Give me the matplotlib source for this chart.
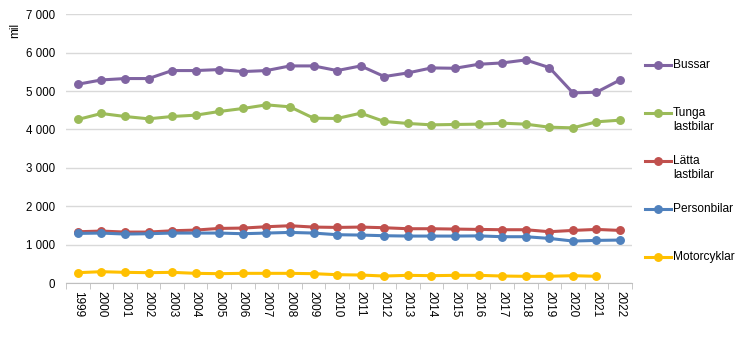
import matplotlib.pyplot as plt
from matplotlib.lines import Line2D
from matplotlib.ticker import FuncFormatter

plt.rcParams['font.family'] = ['Liberation Sans', 'DejaVu Sans']

years = [str(y) for y in range(1999, 2023)]

bussar = [5178, 5290, 5326, 5326, 5534, 5534, 5560, 5508, 5534, 5655, 5655, 5534,
          5655, 5378, 5473, 5603, 5594, 5698, 5733, 5811, 5612, 4953, 4970, 5290]
tunga = [4260, 4416, 4338, 4277, 4338, 4372, 4468, 4546, 4641, 4589, 4294, 4286,
         4424, 4208, 4156, 4120, 4130, 4138, 4164, 4138, 4059, 4042, 4199, 4242]
latta = [1335, 1353, 1327, 1327, 1361, 1379, 1422, 1431, 1466, 1492, 1457, 1448,
         1457, 1440, 1414, 1414, 1405, 1396, 1388, 1388, 1336, 1370, 1396, 1370]
person = [1292, 1301, 1275, 1284, 1301, 1301, 1301, 1284, 1301, 1318, 1301, 1258,
          1249, 1232, 1223, 1223, 1223, 1228, 1206, 1206, 1162, 1093, 1110, 1119]
motor = [269, 295, 278, 269, 278, 252, 243, 252, 252, 252, 243, 217,
         208, 182, 200, 191, 200, 200, 182, 174, 174, 191, 174]

series = [
    (bussar, '#8064A2', ['Bussar']),
    (tunga, '#9BBB59', ['Tunga', 'lastbilar']),
    (latta, '#C0504D', ['Lätta', 'lastbilar']),
    (person, '#4F81BD', ['Personbilar']),
    (motor, '#FFC000', ['Motorcyklar']),
]

fig = plt.figure(figsize=(7.46, 3.37), dpi=100)
ax = fig.add_axes([0.0885, 0.1602, 0.7585, 0.7974])

for vals, col, _ in series:
    ax.plot(range(len(vals)), vals, color=col, lw=2.2, marker='o', ms=5.4,
            solid_capstyle='round', zorder=3)

ax.set_xlim(-0.5, len(years) - 0.5)
ax.set_ylim(0, 7000)
ax.set_yticks(range(0, 7001, 1000))
ax.yaxis.set_major_formatter(FuncFormatter(lambda v, p: f'{int(v):,}'.replace(',', ' ')))
ax.set_xticks(range(len(years)))
ax.set_xticklabels(years, rotation=-90, fontsize=8.5)
ax.set_xticks([i - 0.5 for i in range(len(years) + 1)], minor=True)
ax.tick_params(axis='x', which='major', length=0, pad=6)
ax.tick_params(axis='x', which='minor', length=4, color='#BFBFBF')
ax.tick_params(axis='y', length=0, labelsize=8.3, pad=8)
ax.grid(axis='y', color='#D9D9D9', lw=1)
ax.set_axisbelow(True)
for s in ['top', 'right', 'left']:
    ax.spines[s].set_visible(False)
ax.spines['bottom'].set_color('#BFBFBF')

fig.text(15 / 746, 0.909, 'mil', rotation=90, fontsize=8.5, ha='center', va='center')

# legend drawn by hand
for i, (vals, col, lines) in enumerate(series):
    yf = 1 - (65 + 48 * i) / 337
    fig.add_artist(Line2D([645 / 746, 671 / 746], [yf, yf], color=col, lw=2.2,
                          transform=fig.transFigure))
    fig.add_artist(Line2D([658 / 746], [yf], color=col, marker='o', ms=5.4,
                          transform=fig.transFigure))
    for j, t in enumerate(lines):
        fig.text(673 / 746, yf - j * 14 / 337, t, fontsize=8.6, va='center', ha='left')

fig.savefig('out.png', dpi=100)
